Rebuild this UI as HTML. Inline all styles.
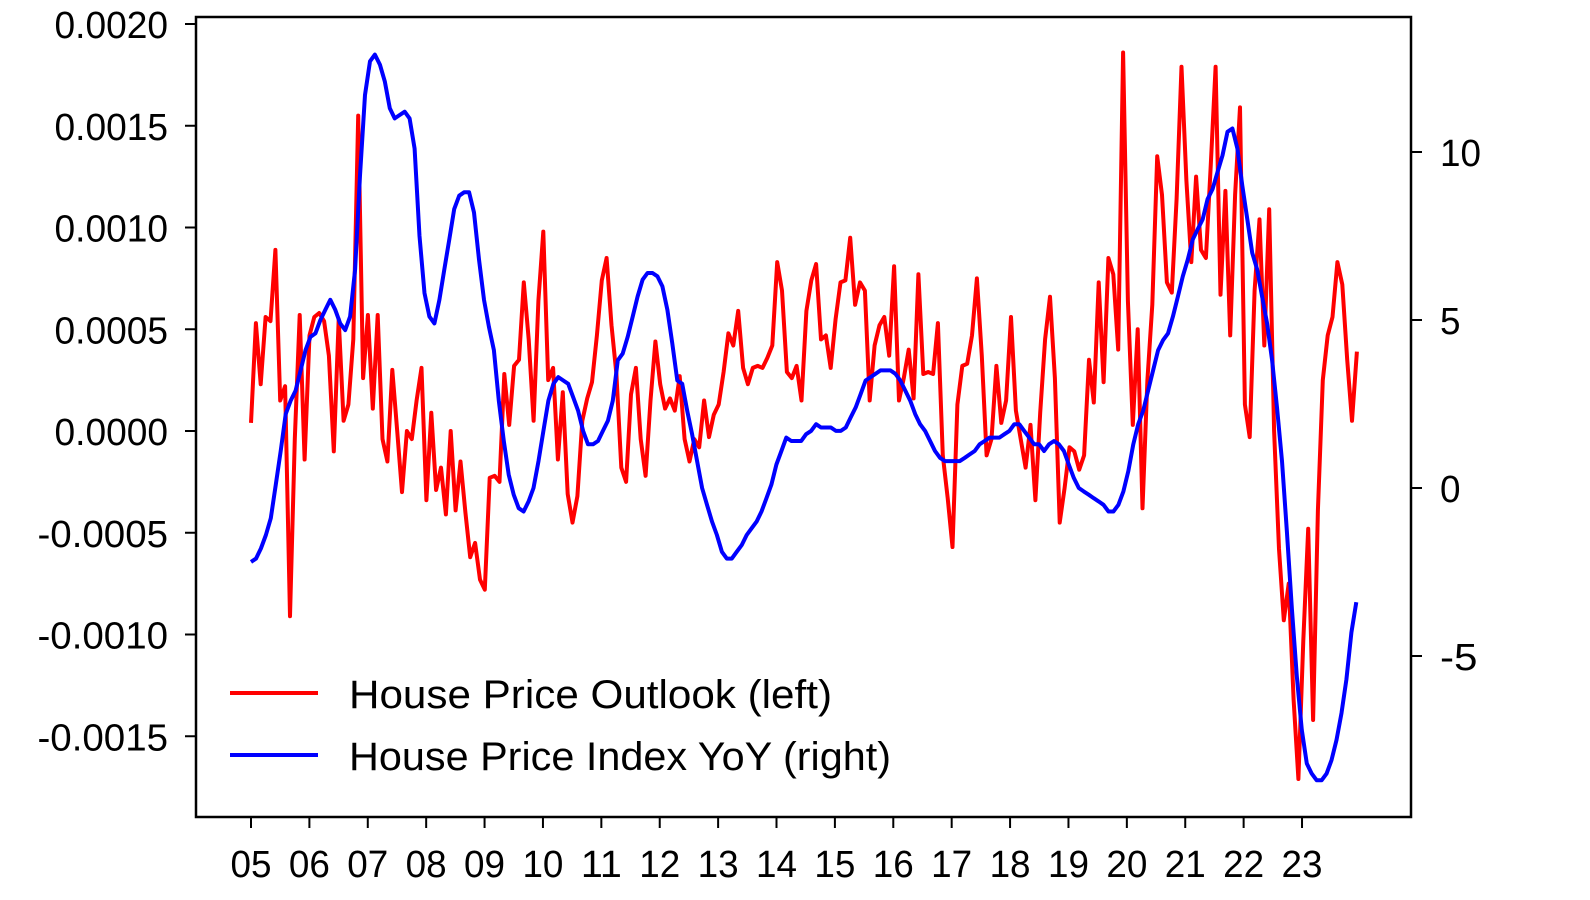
<!DOCTYPE html>
<html><head><meta charset="utf-8">
<style>
html,body{margin:0;padding:0;background:#fff;}
svg{display:block;font-family:"Liberation Sans","Noto Sans CJK KR",sans-serif;}
</style></head>
<body>
<svg id="chart" width="1590" height="900" viewBox="0 0 1590 900" xmlns="http://www.w3.org/2000/svg">
<rect x="0" y="0" width="1590" height="900" fill="#fff"/>
<g id="series"></g>
<rect x="196" y="17" width="1215" height="800" fill="none" stroke="#000" stroke-width="2.5"/>
<g id="axes"></g>
<g>
<line x1="230" y1="693" x2="318" y2="693" stroke="#ff0000" stroke-width="4"/>
<text x="349" y="708" font-size="40" textLength="483" lengthAdjust="spacingAndGlyphs" fill="#000">House Price Outlook (left)</text>
<line x1="230" y1="755" x2="318" y2="755" stroke="#0000ff" stroke-width="4"/>
<text x="349" y="770" font-size="40" textLength="542" lengthAdjust="spacingAndGlyphs" fill="#000">House Price Index YoY (right)</text>
</g>
</svg>
<script>
// House Price Outlook (left axis), in units of 1e-4, monthly samples
const outlookValues = [0.4,5.3,2.3,5.6,5.4,8.9,1.5,2.2,-9.1,-0.4,5.7,-1.4,4.7,5.6,5.8,5.4,3.7,-1.0,5.5,0.5,1.3,4.5,15.5,2.6,5.7,1.1,5.7,-0.4,-1.5,3.0,0.0,-3.0,0.0,-0.4,1.5,3.1,-3.4,0.9,-2.9,-1.8,-4.1,0.0,-3.9,-1.5,-4.0,-6.2,-5.5,-7.3,-7.8,-2.3,-2.2,-2.5,2.8,0.3,3.2,3.5,7.3,4.5,0.5,6.4,9.8,2.5,3.1,-1.4,1.9,-3.1,-4.5,-3.2,0.5,1.6,2.4,4.7,7.4,8.5,5.2,2.8,-1.8,-2.5,1.8,3.1,-0.4,-2.2,1.5,4.4,2.3,1.1,1.6,1.0,2.7,-0.4,-1.5,-0.4,-0.8,1.5,-0.3,0.8,1.3,2.9,4.8,4.2,5.9,3.1,2.3,3.1,3.2,3.1,3.6,4.2,8.3,6.9,2.9,2.6,3.2,1.5,5.9,7.4,8.2,4.5,4.7,3.1,5.5,7.3,7.4,9.5,6.2,7.3,6.9,1.5,4.2,5.2,5.6,3.7,8.1,1.5,2.6,4.0,1.6,7.7,2.8,2.9,2.8,5.3,-1.2,-3.3,-5.7,1.3,3.2,3.3,4.7,7.5,3.7,-1.2,-0.4,3.2,0.4,1.5,5.6,1.0,-0.4,-1.8,0.3,-3.4,0.9,4.5,6.6,2.6,-4.5,-2.8,-0.8,-1.0,-1.9,-1.2,3.5,1.4,7.3,2.4,8.5,7.7,4.0,18.6,6.4,0.3,5.0,-3.8,2.5,6.2,13.5,11.6,7.3,6.8,11.4,17.9,12.3,8.3,12.5,8.9,8.5,13.1,17.9,6.7,11.8,4.7,11.6,15.9,1.3,-0.3,6.9,10.4,4.2,10.9,0.0,-5.8,-9.3,-7.5,-13.2,-17.1,-10.3,-4.8,-14.2,-3.9,2.5,4.7,5.6,8.3,7.2,3.5,0.5,3.9];
// House Price Index YoY (right axis), percent
const indexValues = [-2.2,-2.1,-1.8,-1.4,-0.9,0.1,1.1,2.2,2.6,2.9,3.5,4.1,4.5,4.6,5.0,5.3,5.6,5.3,4.9,4.7,5.1,6.5,9.3,11.7,12.7,12.9,12.6,12.1,11.3,11.0,11.1,11.2,11.0,10.1,7.5,5.8,5.1,4.9,5.6,6.5,7.4,8.3,8.7,8.8,8.8,8.2,6.8,5.6,4.8,4.1,2.6,1.4,0.4,-0.2,-0.6,-0.7,-0.4,0.0,0.8,1.7,2.6,3.1,3.3,3.2,3.1,2.7,2.3,1.7,1.3,1.3,1.4,1.7,2.0,2.6,3.8,4.0,4.5,5.1,5.7,6.2,6.4,6.4,6.3,6.0,5.3,4.3,3.2,3.1,2.3,1.6,0.8,0.0,-0.5,-1.0,-1.4,-1.9,-2.1,-2.1,-1.9,-1.7,-1.4,-1.2,-1.0,-0.7,-0.3,0.1,0.7,1.1,1.5,1.4,1.4,1.4,1.6,1.7,1.9,1.8,1.8,1.8,1.7,1.7,1.8,2.1,2.4,2.8,3.2,3.3,3.4,3.5,3.5,3.5,3.4,3.2,2.9,2.6,2.2,1.9,1.7,1.4,1.1,0.9,0.8,0.8,0.8,0.8,0.9,1.0,1.1,1.3,1.4,1.5,1.5,1.5,1.6,1.7,1.9,1.9,1.7,1.5,1.3,1.3,1.1,1.3,1.4,1.3,1.1,0.7,0.3,0.0,-0.1,-0.2,-0.3,-0.4,-0.5,-0.7,-0.7,-0.5,-0.1,0.5,1.3,1.9,2.3,2.9,3.5,4.1,4.4,4.6,5.1,5.7,6.3,6.8,7.4,7.7,8.0,8.6,8.9,9.4,9.9,10.6,10.7,10.1,9.0,8.0,7.0,6.5,5.7,4.9,3.8,2.4,0.8,-1.3,-3.6,-5.6,-7.2,-8.2,-8.5,-8.7,-8.7,-8.5,-8.1,-7.5,-6.7,-5.7,-4.3,-3.4];
const outlookStart = 2005.0, outlookEnd = 2023.94;
const indexStart = 2005.0, indexEnd = 2023.93;
const xTickLabels = ["05","06","07","08","09","10","11","12","13","14","15","16","17","18","19","20","21","22","23"];
const xTickYears = [2005,2006,2007,2008,2009,2010,2011,2012,2013,2014,2015,2016,2017,2018,2019,2020,2021,2022,2023];
const leftTicks = [0.0020,0.0015,0.0010,0.0005,0.0,-0.0005,-0.0010,-0.0015];
const leftTickLabels = ["0.0020","0.0015","0.0010","0.0005","0.0000","-0.0005","-0.0010","-0.0015"];
const rightTicks = [10,5,0,-5];
const rightTickLabels = ["10","5","0","-5"];

const NS = "http://www.w3.org/2000/svg";
function xScale(year){ return 251 + (year - 2005) * 58.39; }
function yLeft(v){ return 431 - v * 203500; }
function yRight(v){ return 488 - v * 33.6; }
function labelWidth(s){
  let w = 0;
  for (const c of s) w += (c === '.') ? 11 : (c === '-') ? 17 : 20.5;
  return w;
}
function mk(tag, attrs, parent){
  const el = document.createElementNS(NS, tag);
  for (const k in attrs) el.setAttribute(k, attrs[k]);
  parent.appendChild(el);
  return el;
}
const axes = document.getElementById('axes');
const series = document.getElementById('series');

xTickYears.forEach((yr, i) => {
  const x = xScale(yr);
  const t = mk('line', {x1:x, y1:817, x2:x, y2:828, stroke:'#000', 'stroke-width':2}, axes);
  
  
  const lb = mk('text', {x:x, y:877, 'font-size':38, 'text-anchor':'middle', fill:'#000', textLength:labelWidth(xTickLabels[i]), lengthAdjust:'spacingAndGlyphs'}, axes);
  
  
  lb.textContent = xTickLabels[i];
});
leftTicks.forEach((v, i) => {
  const y = yLeft(v);
  const t = mk('line', {x1:185, y1:y, x2:196, y2:y, stroke:'#000', 'stroke-width':2}, axes);
  
  
  const lb = mk('text', {x:168, y:y+14, 'font-size':38, 'text-anchor':'end', fill:'#000', textLength:labelWidth(leftTickLabels[i]), lengthAdjust:'spacingAndGlyphs'}, axes);
  
  
  lb.textContent = leftTickLabels[i];
});
rightTicks.forEach((v, i) => {
  const y = yRight(v);
  const t = mk('line', {x1:1411, y1:y, x2:1422, y2:y, stroke:'#000', 'stroke-width':2}, axes);
  
  
  const lb = mk('text', {x:1440, y:y+14, 'font-size':38, 'text-anchor':'start', fill:'#000', textLength:labelWidth(rightTickLabels[i]), lengthAdjust:'spacingAndGlyphs'}, axes);
  
  
  lb.textContent = rightTickLabels[i];
});

function pathFor(vals, start, end, ys){
  const n = vals.length;
  return vals.map((v, i) => {
    const yr = start + i * (end - start) / (n - 1);
    return (i ? 'L' : 'M') + xScale(yr).toFixed(1) + ' ' + ys(v).toFixed(1);
  }).join(' ');
}
const red = mk('path', {d:pathFor(outlookValues.map(v => v * 1e-4), outlookStart, outlookEnd, yLeft), fill:'none', stroke:'#ff0000', 'stroke-width':4, 'stroke-linejoin':'round'}, series);


const blue = mk('path', {d:pathFor(indexValues, indexStart, indexEnd, yRight), fill:'none', stroke:'#0000ff', 'stroke-width':4, 'stroke-linejoin':'round'}, series);


</script>
</body></html>
